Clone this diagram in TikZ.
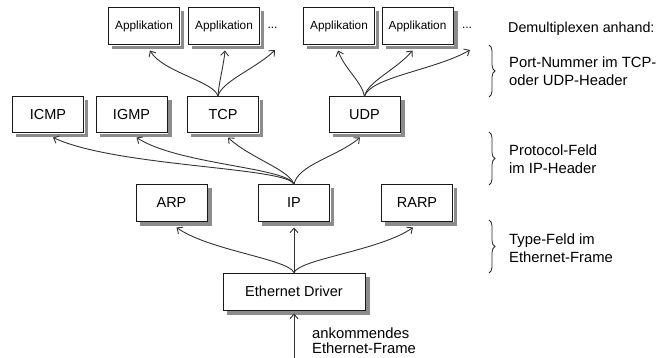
\documentclass[tikz,border=0pt]{standalone}
\usepackage{fontspec}
\setmainfont{Liberation Sans}
\usetikzlibrary{arrows.meta,decorations.pathreplacing}
\definecolor{shadowgray}{gray}{0.55}

% a framed box with a drop shadow along its lower and right edges
\newcommand{\shadowbox}[4][]{%
  \node[box,#1] (#2) at (#3) {#4};
  \draw[boxshadow] ([shift={(4,-2.25)}]#2.south west) -- ([shift={(2.25,-2.25)}]#2.south east)
    -- ([shift={(2.25,-4)}]#2.north east);}

\begin{document}
\begin{tikzpicture}[x=1pt,y=1pt,
  box/.style={draw=black!90, line width=1pt, fill=white, minimum width=71pt,
    minimum height=36pt, inner sep=0pt, font=\fontsize{14.5}{16}\selectfont},
  boxshadow/.style={draw=shadowgray, line width=3.5pt, line join=miter, line cap=butt},
  appbox/.style={minimum height=37pt, font=\fontsize{11.8}{13}\selectfont},
  arr/.style={draw=black!80, line width=0.9pt, -{Straight Barb[length=4.5pt,width=8pt]}},
  note/.style={anchor=west, align=left, inner sep=0pt, font=\fontsize{14.8}{17.5}\selectfont},
  brc/.style={draw=black!85, decorate, decoration={brace, amplitude=6pt}, line width=0.8pt}
]
\useasboundingbox (0,0) rectangle (658,-358);

% application layer
\shadowbox[appbox]{app1}{144,-26.5}{Applikation}
\shadowbox[appbox]{app2}{224,-26.5}{Applikation}
\node[font=\fontsize{12}{13}\selectfont, inner sep=0pt] (dots1) at (272.5,-28) {...};
\shadowbox[appbox]{app3}{339,-26.5}{Applikation}
\shadowbox[appbox]{app4}{417.5,-26.5}{Applikation}
\node[font=\fontsize{12}{13}\selectfont, inner sep=0pt] (dots2) at (467,-28) {...};
\coordinate (d1) at (275,-50);
\coordinate (d2) at (470,-50);

% transport layer
\shadowbox{icmp}{48,-115}{ICMP}
\shadowbox{igmp}{131.5,-115}{IGMP}
\shadowbox{tcp}{223,-115}{TCP}
\shadowbox{udp}{364.5,-115}{UDP}

% network layer
\shadowbox{arp}{171.5,-203}{ARP}
\shadowbox{ip}{294,-203}{IP}
\shadowbox{rarp}{417,-203}{RARP}

% link layer
\shadowbox[minimum width=142pt, minimum height=37pt]{eth}{294,-291.5}{Ethernet Driver}
\coordinate (in) at (294,-358);

% TCP -> applications
\draw[arr] ([xshift=-5pt]tcp.north) to[out=100,in=-60,out distance=15pt,in distance=25pt] ([xshift=6pt,yshift=-5pt]app1.south);
\draw[arr] ([xshift=-5pt]tcp.north) to[out=88,in=-95,out distance=12pt,in distance=15pt] ([xshift=1pt,yshift=-5pt]app2.south);
\draw[arr] ([xshift=-5pt]tcp.north) to[out=80,in=-135,out distance=15pt,in distance=25pt] (d1);

% UDP -> applications
\draw[arr] (udp.north) to[out=100,in=-70,out distance=15pt,in distance=20pt] ([xshift=-1pt,yshift=-5pt]app3.south);
\draw[arr] (udp.north) to[out=80,in=-130,out distance=15pt,in distance=25pt] ([xshift=-5pt,yshift=-5pt]app4.south);
\draw[arr] (udp.north) to[out=75,in=-150,out distance=20pt,in distance=40pt] (d2);

% IP -> transport protocols
\draw[arr] (ip.north) to[out=105,in=-25,out distance=18pt,in distance=70pt] ([xshift=5pt,yshift=-4pt]icmp.south);
\draw[arr] (ip.north) to[out=108,in=-33,out distance=18pt,in distance=50pt] ([xshift=5pt,yshift=-4pt]igmp.south);
\draw[arr] (ip.north) to[out=105,in=-43,out distance=15pt,in distance=30pt] ([xshift=5pt,yshift=-4pt]tcp.south);
\draw[arr] (ip.north) to[out=80,in=-140,out distance=20pt,in distance=30pt] ([xshift=-4.5pt,yshift=-4pt]udp.south);

% Ethernet driver -> network protocols
\draw[arr] (eth.north) to[out=115,in=-35,out distance=15pt,in distance=40pt] ([xshift=5pt,yshift=-6pt]arp.south);
\draw[arr] (eth.north) -- ([yshift=-6pt]ip.south);
\draw[arr] (eth.north) to[out=65,in=-145,out distance=15pt,in distance=40pt] ([xshift=-4pt,yshift=-6pt]rarp.south);

% incoming frame
\draw[arr] (in) -- ([yshift=-3pt]eth.south);
\node[note, font=\fontsize{14.8}{15}\selectfont] (inlbl) at (312,-340.5) {ankommendes\\Ethernet-Frame};

% demultiplexing keys
\node[note, font=\fontsize{14.3}{17.5}\selectfont] (demux) at (508,-29) {Demultiplexen anhand:};
\draw[brc] (489,-45) -- (489,-97);
\node[note] (port) at (509,-71) {Port-Nummer im TCP-\\oder UDP-Header};
\draw[brc] (489,-132) -- (489,-185);
\node[note] (proto) at (509,-159) {Protocol-Feld\\im IP-Header};
\draw[brc] (489,-220) -- (489,-273);
\node[note] (type) at (509,-248) {Type-Feld im\\Ethernet-Frame};
\end{tikzpicture}
\end{document}
